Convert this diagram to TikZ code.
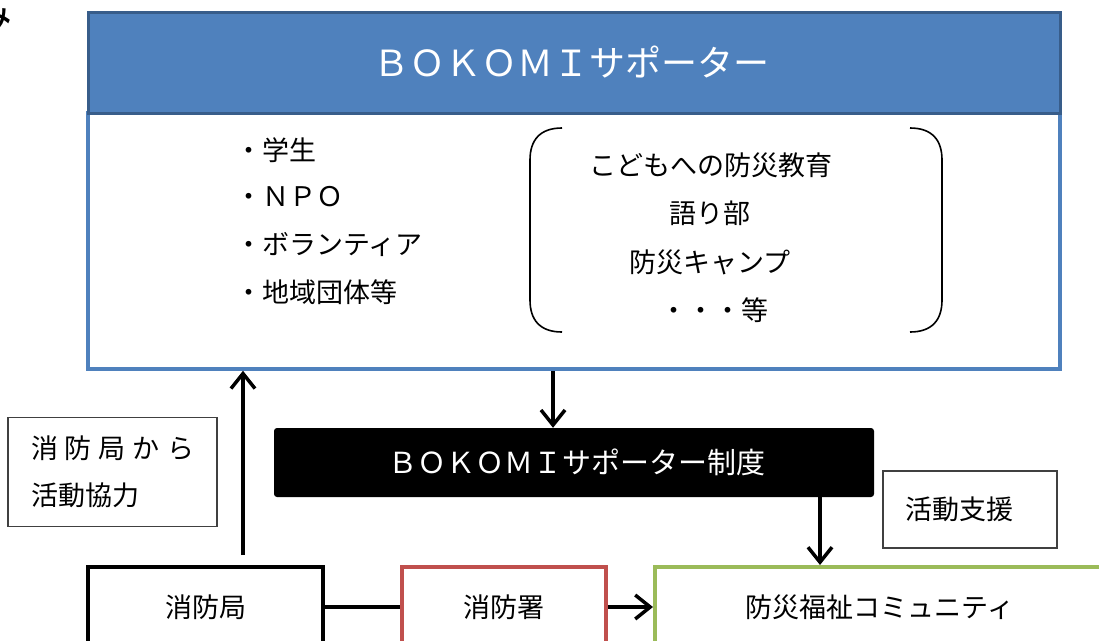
\documentclass[tikz,border=0pt]{standalone}
\usepackage{fontspec}
\setmainfont{Noto Sans CJK JP}
\usetikzlibrary{arrows.meta}
\definecolor{blueF}{HTML}{4F81BD}
\definecolor{blueD}{HTML}{385D8A}
\definecolor{redC}{HTML}{C0504D}
\definecolor{greenC}{HTML}{9BBB59}
\definecolor{thinC}{HTML}{404040}
\tikzset{
  boxbase/.style={rectangle, inner sep=0pt, anchor=center},
  thinbox/.style={boxbase, draw=thinC, line width=1.3pt},
  thickbox/.style={boxbase, line width=4pt},
  arr/.style={line width=3.5pt, -{Straight Barb[length=15pt,width=24pt]}},
  conn/.style={line width=3.5pt},
  txt/.style={inner sep=0pt, font=\fontsize{27}{32}\selectfont},
}
\begin{document}
\begin{tikzpicture}[x=1pt,y=-1pt]
\useasboundingbox (0,0) rectangle (1099,640);
% partial character at top left
\node[inner sep=0pt, font=\fontsize{42}{46}\selectfont] (frag) at (-8,16) {み};
% top box
\node[boxbase, draw=blueF, fill=white, line width=3.5pt, minimum width=972pt, minimum height=256pt] (body) at (574,241) {};
\node[boxbase, draw=blueD, fill=blueF, line width=3pt, minimum width=972pt, minimum height=101pt, text=white, font=\fontsize{36}{40}\selectfont] (hdr) at (574,62.5) {ＢＯＫＯＭＩサポーター\kern6pt};
% member list
\node[txt, anchor=west] (m1) at (235,150) {・学生};
\node[txt, anchor=west] (m2) at (235,197) {・ＮＰＯ};
\node[txt, anchor=west] (m3) at (235,244) {・ボランティア};
\node[txt, anchor=west] (m4) at (235,292) {・地域団体等};
% activity list
\node[txt] (a1) at (711,165) {こどもへの防災教育};
\node[txt] (a2) at (710,213) {語り部};
\node[txt] (a3) at (710,262) {防災キャンプ};
\node[txt] (a4) at (714,310) {・・・等};
\draw[line width=1.6pt] (562,128) .. controls (540,128) and (530,140) .. (530,160) -- (530,300) .. controls (530,320) and (540,332) .. (562,332);
\draw[line width=1.6pt] (910,128) .. controls (932,128) and (942,140) .. (942,160) -- (942,300) .. controls (942,320) and (932,332) .. (910,332);
% system box
\node[boxbase, fill=black, rounded corners=3pt, minimum width=600pt, minimum height=69pt, text=white, font=\fontsize{29}{32}\selectfont] (seido) at (574,462.5) {\kern6pt ＢＯＫＯＭＩサポーター制度};
% side label boxes
\node[thinbox, minimum width=209pt, minimum height=109pt, align=left, font=\fontsize{27}{47}\selectfont] (coop) at (112.5,472) {消\kern7pt 防\kern7pt 局\kern7pt か\kern7pt ら\\活動協力};
\node[thinbox, minimum width=174pt, minimum height=77pt, font=\fontsize{27}{32}\selectfont] (shien) at (970,509.5) {活動支援\kern22pt};
% bottom boxes
\node[thickbox, draw=black, minimum width=235pt, minimum height=80pt, font=\fontsize{27}{32}\selectfont] (kyoku) at (205.5,607) {消防局};
\node[thickbox, draw=redC, minimum width=204pt, minimum height=80pt, font=\fontsize{27}{32}\selectfont] (sho) at (504,607) {消防署};
\node[thickbox, draw=greenC, minimum width=450pt, minimum height=80pt, font=\fontsize{27}{32}\selectfont] (comm) at (880,607) {防災福祉コミュニティ};
% connectors
\coordinate (uptail) at (243,555);
\coordinate (dx1) at (553,0);
\coordinate (dx2) at (820,0);
\draw[arr] (uptail) -- (body.south -| uptail);
\draw[arr] (body.south -| dx1) -- (seido.north -| dx1);
\draw[arr] (seido.south -| dx2) -- (comm.north -| dx2);
\draw[conn] (kyoku.east) -- (sho.west);
\draw[arr] (sho.east) -- (comm.west);
\end{tikzpicture}
\end{document}
